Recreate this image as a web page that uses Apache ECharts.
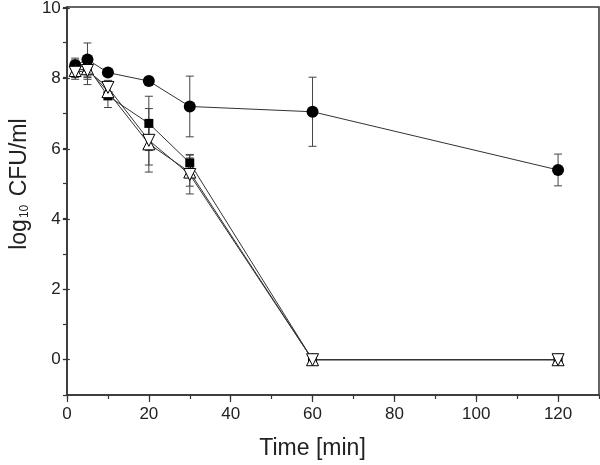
<!DOCTYPE html>
<html>
<head>
<meta charset="utf-8">
<script src="https://cdn.jsdelivr.net/npm/echarts@6/dist/echarts.min.js"></script>
<style>html,body{margin:0;padding:0;background:#fff}#c{width:600px;height:465px}</style>
</head>
<body>
<div id="c"></div>
<script>
// ---- data ----
var times = [2, 5, 10, 20, 30, 60, 120];
var circleVals = [8.35, 8.51, 8.14, 7.90, 7.18, 7.03, 5.38];
var circleErr  = [0.20, 0.47, 0.10, 0.10, 0.86, 0.98, 0.45];
var squareVals = [8.35, 8.30, 7.48, 6.70, 5.58, 0, 0];
var squareErr  = [0.15, 0.30, 0.33, 0.77, 0.24, 0, 0];
var triUpVals  = [8.20, 8.25, 7.60, 6.12, 5.32, 0, 0];
var triUpErr   = [0.20, 0.30, 0.20, 0.60, 0.40, 0, 0];
var triDnVals  = [8.15, 8.20, 7.72, 6.22, 5.25, 0, 0];
var triDnErr   = [0.20, 0.40, 0.20, 0.90, 0.55, 0, 0];
var xTickLabels = [0, 20, 40, 60, 80, 100, 120];
var yTickLabels = [0, 2, 4, 6, 8, 10];

// ---- layout ----
var W = 600, H = 465;
var gLeft = 67, gTop = 7, gRight = 1, gBottom = 70;
var xMin = 0, xMax = 130, yMin = -1, yMax = 10;
var pxX = (W - gLeft - gRight) / (xMax - xMin);
var pxY = (H - gTop - gBottom) / (yMax - yMin);
var xLabMax = xTickLabels[xTickLabels.length - 1];
var yLabMin = yTickLabels[0];
var g2Right = gRight + (xMax - xLabMax) * pxX;
var g3Bottom = gBottom + (yLabMin - yMin) * pxY;

var FONT = '"Liberation Sans", Arial, sans-serif';
var TXT = '#222';
var AX = '#333';

function pairs(v) { return times.map(function (t, i) { return [t, v[i]]; }); }
function errData(v, e) { return times.map(function (t, i) { return [t, v[i] - e[i], v[i] + e[i]]; }); }

function errSeries(v, e, z) {
  return {
    type: 'custom', xAxisIndex: 0, yAxisIndex: 0, z: z, silent: true,
    data: errData(v, e),
    renderItem: function (params, api) {
      var x = api.value(0), lo = api.value(1), hi = api.value(2);
      if (hi - lo <= 0) return null;
      var pLo = api.coord([x, lo]), pHi = api.coord([x, hi]);
      var w = 4;
      var st = { stroke: '#444', lineWidth: 1 };
      return {
        type: 'group',
        children: [
          { type: 'line', shape: { x1: pLo[0], y1: pLo[1], x2: pHi[0], y2: pHi[1] }, style: st },
          { type: 'line', shape: { x1: pLo[0] - w, y1: pLo[1], x2: pLo[0] + w, y2: pLo[1] }, style: st },
          { type: 'line', shape: { x1: pHi[0] - w, y1: pHi[1], x2: pHi[0] + w, y2: pHi[1] }, style: st }
        ]
      };
    }
  };
}

function lineSeries(v, symbol, size, fill, rot, z) {
  return {
    type: 'line', xAxisIndex: 0, yAxisIndex: 0, z: z,
    data: pairs(v),
    symbol: symbol, symbolSize: size, symbolRotate: rot || 0,
    showAllSymbol: true, animation: false, clip: false,
    lineStyle: { color: '#333', width: 1 },
    itemStyle: { color: fill, borderColor: '#000', borderWidth: fill === '#fff' ? 1 : 0 }
  };
}

var hiddenX = function (gi) { return { type: 'value', gridIndex: gi, show: false, min: 0, max: 1 }; };
var hiddenY = function (gi) { return { type: 'value', gridIndex: gi, show: false, min: 0, max: 1 }; };

var chart = echarts.init(document.getElementById('c'), null, { renderer: 'canvas' });
chart.setOption({
  animation: false,
  backgroundColor: '#fff',
  grid: [
    { left: gLeft, top: gTop, right: gRight, bottom: gBottom, show: true, borderColor: AX, borderWidth: 1.5, backgroundColor: 'transparent' },
    { left: gLeft, top: gTop, right: g2Right, bottom: gBottom, show: false },
    { left: gLeft, top: gTop, right: gRight, bottom: g3Bottom, show: false }
  ],
  xAxis: [
    { type: 'value', gridIndex: 0, min: xMin, max: xMax, interval: 10,
      axisLine: { show: true, onZero: false, lineStyle: { color: AX, width: 1.5 } },
      axisTick: { show: true, length: 4, lineStyle: { color: AX, width: 1.2 } },
      axisLabel: { show: false }, splitLine: { show: false } },
    { type: 'value', gridIndex: 1, min: xTickLabels[0], max: xLabMax, interval: 20,
      axisLine: { show: false, onZero: false },
      axisTick: { show: true, length: 7, lineStyle: { color: AX, width: 1.2 } },
      axisLabel: { show: true, color: TXT, fontSize: 17, fontFamily: FONT, margin: 11 },
      splitLine: { show: false },
      name: 'Time [min]', nameLocation: 'middle', nameGap: 42,
      nameTextStyle: { color: TXT, fontSize: 23, fontFamily: FONT } },
    hiddenX(2)
  ],
  yAxis: [
    { type: 'value', gridIndex: 0, min: yMin, max: yMax, interval: 1,
      axisLine: { show: true, onZero: false, lineStyle: { color: AX, width: 1.5 } },
      axisTick: { show: true, length: 4, lineStyle: { color: AX, width: 1.2 } },
      axisLabel: { show: false }, splitLine: { show: false } },
    hiddenY(1),
    { type: 'value', gridIndex: 2, min: yLabMin, max: yMax, interval: 2,
      axisLine: { show: false, onZero: false },
      axisTick: { show: true, length: 7, lineStyle: { color: AX, width: 1.2 } },
      axisLabel: { show: true, color: TXT, fontSize: 17, fontFamily: FONT, margin: 9 },
      splitLine: { show: false },
      name: '{a|log}{s|10}{a| CFU/ml}', nameLocation: 'middle', nameGap: 33,
      nameTextStyle: { color: TXT, fontFamily: FONT,
        rich: {
          a: { fontSize: 23, fontFamily: FONT, color: TXT, lineHeight: 28 },
          s: { fontSize: 12, fontFamily: FONT, color: TXT, lineHeight: 28, padding: [10, 2, 0, 1] }
        } } }
  ],
  series: [
    errSeries(circleVals, circleErr, 2),
    errSeries(squareVals, squareErr, 2),
    errSeries(triUpVals, triUpErr, 2),
    errSeries(triDnVals, triDnErr, 2),
    lineSeries(circleVals, 'circle', 12, '#000', 0, 3),
    lineSeries(squareVals, 'rect', 9, '#000', 0, 4),
    lineSeries(triUpVals, 'triangle', 12, '#fff', 0, 5),
    lineSeries(triDnVals, 'triangle', 12, '#fff', 180, 6)
  ]
});
</script>
</body>
</html>
